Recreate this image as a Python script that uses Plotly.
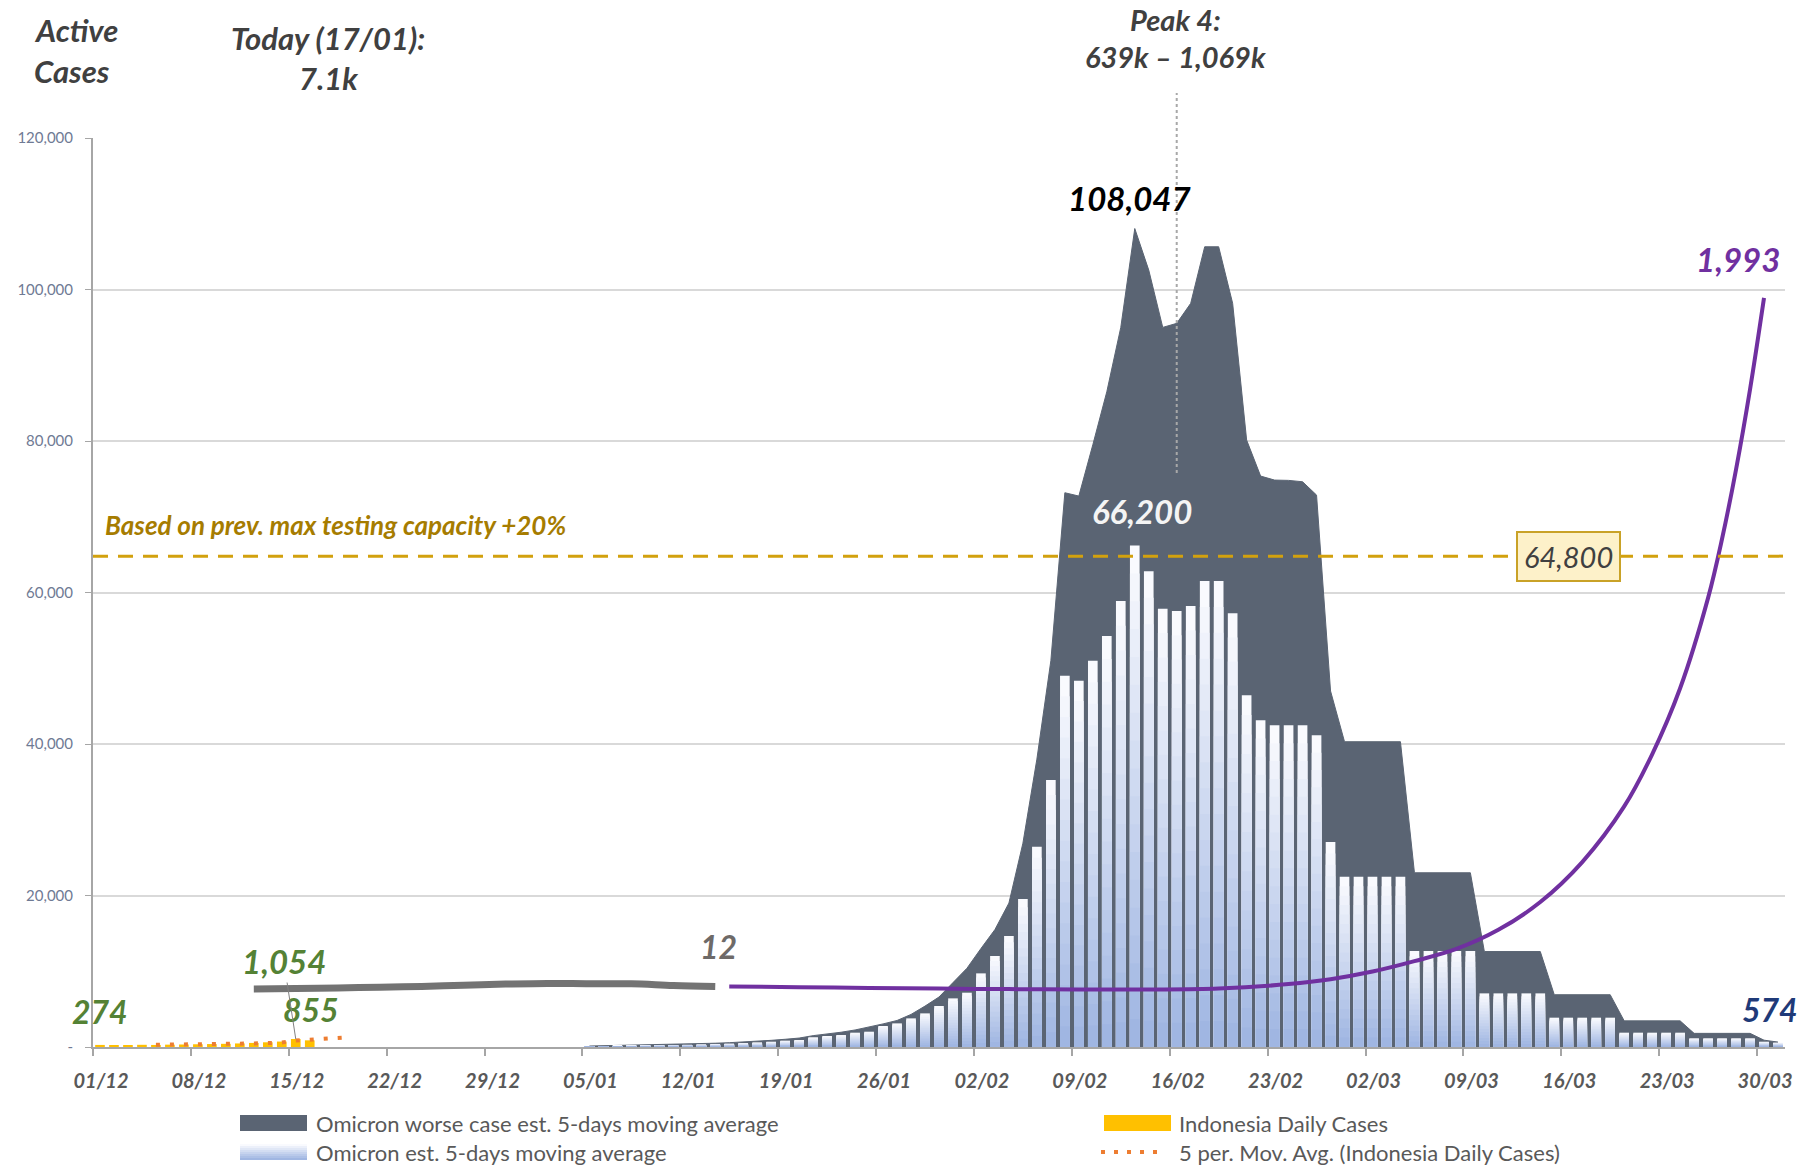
import pandas as pd
import plotly.graph_objects as go

# ------------------------------------------------------------------ data
AXIS_START, AXIS_END = "2021-12-01", "2022-04-01"
DAY_MS = 86400000

# Omicron projections, one value per day from 05/01/2022 to 31/03/2022
OMICRON_START = "2022-01-05"
omicron_est = [
    100, 120, 140, 160, 190, 220, 250, 290, 330, 380, 440, 510, 600,
    700, 840, 920, 1280, 1450, 1580, 1890, 2020, 2770, 3120, 3780, 4440,
    5410, 6420, 7170, 9720, 12010, 14650,
    19540, 26440, 35240, 49010, 48350, 50990, 54250, 58870, 66200, 62790,
    57860, 57550, 58210, 61510, 61510, 57250, 46420, 43120, 42460, 42460,
    42460, 41140, 27060,
    22480, 22480, 22480, 22480, 22480,
    12670, 12670, 12670, 12670, 12670,
    7080, 7080, 7080, 7080, 7080,
    3870, 3870, 3870, 3870, 3870,
    1890, 1890, 1890, 1890, 1890,
    1145, 1145, 1145, 1145, 1145,
    700, 574,
]
omicron_worst = [
    130, 160, 190, 220, 260, 300, 340, 390, 440, 500, 570, 650, 750,
    880, 1020, 1180, 1500, 1700, 1950, 2250, 2600, 3050, 3500, 4300, 5400,
    6600, 8500, 10400, 13000, 15500, 19000,
    26900, 38000, 51000, 73170, 72730, 79500, 86500, 95000, 108047, 102560,
    95000, 95530, 98170, 105640, 105640, 98170, 80120, 75370, 74840, 74800,
    74620, 72860, 47000,
    40300, 40300, 40300, 40300, 40300,
    23000, 23000, 23000, 23000, 23000,
    12600, 12600, 12600, 12600, 12600,
    6900, 6900, 6900, 6900, 6900,
    3450, 3450, 3450, 3450, 3450,
    1800, 1800, 1800, 1800, 1800,
    900, 650,
]

# Indonesia daily cases and their 5-period moving average
CASES_START = "2021-12-01"
indonesia_daily = [274, 240, 260, 290, 270, 310, 330, 360, 390, 420,
                   470, 540, 620, 720, 1054, 880]
MOV_AVG_START = "2021-12-05"
indonesia_mov_avg = [290, 300, 320, 340, 370, 400, 430, 470, 520, 600,
                     855, 950, 1050, 1150, 1300]

# Lines on the secondary (hidden) scale
gray_dates = ["2021-12-12", "2021-12-15", "2021-12-18", "2021-12-21",
              "2021-12-24", "2021-12-27", "2021-12-30", "2022-01-02",
              "2022-01-05", "2022-01-08", "2022-01-11", "2022-01-14"]
gray_values = [5, 6, 8, 10, 12, 16, 19, 21, 20, 20, 15, 12]

purple_dates = ["2022-01-15", "2022-01-20", "2022-01-25", "2022-01-30",
                "2022-02-04", "2022-02-09", "2022-02-14", "2022-02-19",
                "2022-02-24", "2022-02-27", "2022-03-02", "2022-03-05",
                "2022-03-08", "2022-03-11", "2022-03-14", "2022-03-17",
                "2022-03-20", "2022-03-22", "2022-03-24", "2022-03-26",
                "2022-03-27", "2022-03-28", "2022-03-29", "2022-03-30"]
purple_values = [12, 10, 8, 6, 4.5, 3.5, 3.5, 6, 19, 33, 55, 85, 120, 175,
                 255, 370, 530, 680, 870, 1130, 1300, 1500, 1730, 1993]
LINE_AXIS_RANGE = [-162, 2453]

TESTING_CAPACITY = 64800
PEAK_DATE = "2022-02-16"

y_ticks = [0, 20000, 40000, 60000, 80000, 100000, 120000]
y_ticktext = ["-", "20,000", "40,000", "60,000", "80,000", "100,000", "120,000"]

# ------------------------------------------------------------------ style
DARK = "#5a6473"
BAR_TOP = (249, 250, 254)
BAR_BOTTOM = (160, 182, 226)
PURPLE = "#7030a0"
GOLD = "#d2a10e"
GREEN = "#548235"
TEXT = "#404040"

# plot-area pixel frame used for the free-standing texts
PL, PR, PT, PB = 93, 1785, 138, 1047


def px(x):
    return (x - PL) / (PR - PL)


def py(y):
    return (PB - y) / (PB - PT)


def blend(t):
    return "rgb(%d,%d,%d)" % tuple(round(a + (b - a) * t) for a, b in zip(BAR_TOP, BAR_BOTTOM))


def mid(d):
    return pd.Timestamp(d) + pd.Timedelta(hours=12)


est_x = pd.date_range(OMICRON_START, periods=len(omicron_est), freq="D")
cases_x = pd.date_range(CASES_START, periods=len(indonesia_daily), freq="D")
mov_x = pd.date_range(MOV_AVG_START, periods=len(indonesia_mov_avg), freq="D")

period = dict(xperiod=DAY_MS, xperiodalignment="middle")

fig = go.Figure()

# worst-case area (main axis, drawn underneath)
fig.add_trace(go.Scatter(
    x=est_x, y=omicron_worst, mode="lines", fill="tozeroy",
    fillcolor=DARK, line=dict(color=DARK, width=1), hoverinfo="skip", **period))

# estimate columns with a white-to-blue vertical gradient (overlay axis)
N_LAYERS = 18
for k in range(N_LAYERS):
    frac = (N_LAYERS - k) / N_LAYERS
    fig.add_trace(go.Bar(
        x=est_x, y=[v * frac for v in omicron_est], yaxis="y2",
        marker=dict(color=blend(k / (N_LAYERS - 1)), line=dict(width=0)),
        hoverinfo="skip", **period))

fig.add_trace(go.Bar(x=cases_x, y=indonesia_daily, yaxis="y2",
                     marker=dict(color="#ffc000", line=dict(width=0)), **period))
fig.add_trace(go.Scatter(x=mov_x, y=indonesia_mov_avg, yaxis="y2", mode="lines",
                         line=dict(color="#ed7d31", width=4, dash="4px,10px"), **period))

# lines on the hidden secondary scale
fig.add_trace(go.Scatter(x=gray_dates, y=gray_values, yaxis="y3", mode="lines",
                         line=dict(color="#737373", width=7, shape="spline"), **period))
fig.add_trace(go.Scatter(x=purple_dates, y=purple_values, yaxis="y3", mode="lines",
                         line=dict(color=PURPLE, width=4, shape="spline"), **period))

# ------------------------------------------------------------------ shapes
ROW1, ROW2 = 1123, 1152
shapes = [
    dict(type="line", xref="paper", yref="y", x0=0, x1=1,
         y0=TESTING_CAPACITY, y1=TESTING_CAPACITY,
         line=dict(color=GOLD, width=3, dash="15px,10px")),
    dict(type="line", xref="x", yref="paper", x0=mid(PEAK_DATE), x1=mid(PEAK_DATE),
         y0=py(473), y1=py(93), line=dict(color="#a8a8a8", width=2, dash="dot")),
    # legend swatches
    dict(type="rect", xref="paper", yref="paper", x0=px(240), x1=px(307),
         y0=py(ROW1 + 8), y1=py(ROW1 - 8), fillcolor=DARK, line=dict(width=0)),
    dict(type="rect", xref="paper", yref="paper", x0=px(1104), x1=px(1171),
         y0=py(ROW1 + 8), y1=py(ROW1 - 8), fillcolor="#ffc000", line=dict(width=0)),
    dict(type="line", xref="paper", yref="paper", x0=px(1101), x1=px(1164),
         y0=py(ROW2), y1=py(ROW2), line=dict(color="#ed7d31", width=4, dash="4px,9px")),
]
STRIPS = 8
for i in range(STRIPS):
    top = ROW2 - 8 + i * 16 / STRIPS
    shapes.append(dict(type="rect", xref="paper", yref="paper", x0=px(240), x1=px(307),
                       y0=py(top + 16 / STRIPS), y1=py(top),
                       fillcolor=blend(i / (STRIPS - 1)), line=dict(width=0)))

# ------------------------------------------------------------------ texts
bi = dict(family="Lato", weight="bold", style="italic")


def label(text, x, y, size, color, xref="x", yref="y", xanchor="center",
          yanchor="middle", xshift=0, yshift=0, **kw):
    return dict(text=text, x=x, y=y, xref=xref, yref=yref, xanchor=xanchor,
                yanchor=yanchor, xshift=xshift, yshift=yshift, showarrow=False,
                font=dict(size=size, color=color, **bi), **kw)


peak_i = omicron_worst.index(max(omicron_worst))
bar_i = omicron_est.index(max(omicron_est))

annotations = [
    label("Active", px(32), py(30), 31, TEXT, "paper", "paper", xanchor="left"),
    label("Cases", px(32), py(71), 31, TEXT, "paper", "paper", xanchor="left"),
    label("Today (17/01):", px(328), py(38), 31, TEXT, "paper", "paper"),
    label("7.1k", px(328), py(78), 31, TEXT, "paper", "paper"),
    label("Peak 4:", px(1175), py(20), 29, TEXT, "paper", "paper"),
    label("639k – 1,069k", px(1175), py(57), 29, TEXT, "paper", "paper"),
    label("Based on prev. max testing capacity +20%", px(103), py(525), 26,
          "#a67c00", "paper", "paper", xanchor="left"),
    label(f"{max(omicron_worst):,}", mid(est_x[peak_i]), max(omicron_worst), 33,
          "#000000", xshift=-5, yshift=31),
    label(f"{max(omicron_est):,}", mid(est_x[bar_i]), max(omicron_est), 33,
          "#f4f4f4", xshift=7, yshift=35),
    label(f"{omicron_est[-1]:,}", mid(est_x[-1]), omicron_est[-1], 32,
          "#1f3a78", xshift=-8, yshift=33),
    label(f"{purple_values[-1]:,}", mid(purple_dates[-1]), purple_values[-1], 33,
          PURPLE, yref="y3", xshift=-26, yshift=39),
    label(f"{gray_values[-1]:,}", mid(gray_dates[-1]), gray_values[-1], 32,
          "#6e6a68", yref="y3", xshift=3, yshift=40),
    label(f"{indonesia_mov_avg[10]:,}", mid(mov_x[10]), indonesia_mov_avg[10], 32,
          GREEN, xshift=15, yshift=31),
    label(f"{indonesia_daily[0]:,}", mid(cases_x[0]), indonesia_daily[0], 32,
          GREEN, yshift=33),
    dict(text=f"{indonesia_daily[14]:,}", x=mid(cases_x[14]), y=indonesia_daily[14],
         xref="x", yref="y", showarrow=True, arrowhead=0, arrowwidth=1,
         arrowcolor="#808080", ax=-12, ay=-78, standoff=0,
         font=dict(size=33, color=GREEN, **bi)),
    dict(text=f"{TESTING_CAPACITY:,}", x=px(1568), y=TESTING_CAPACITY,
         xref="paper", yref="y", showarrow=False, xanchor="center", yanchor="middle",
         bgcolor="#fdf1c9", bordercolor="#c9a227", borderwidth=2, borderpad=6,
         font=dict(size=29, color=TEXT, family="Lato", style="italic")),
]
legend_font = dict(family="Lato", size=22, color="#595959")
for text, x, y in [
    ("Omicron worse case est. 5-days moving average", 315, ROW1),
    ("Omicron est. 5-days moving average", 315, ROW2),
    ("Indonesia Daily Cases", 1178, ROW1),
    ("5 per. Mov. Avg. (Indonesia Daily Cases)", 1178, ROW2),
]:
    annotations.append(dict(text=text, x=px(x), y=py(y), xref="paper", yref="paper",
                            xanchor="left", yanchor="middle", showarrow=False,
                            borderpad=0, font=legend_font))

# ------------------------------------------------------------------ layout
fig.update_layout(
    width=1818, height=1169,
    margin=dict(l=PL, r=1818 - PR, t=PT, b=1169 - PB),
    plot_bgcolor="white", paper_bgcolor="white",
    showlegend=False, barmode="overlay", bargap=0.31,
    font=dict(family="Lato"),
    xaxis=dict(
        type="date", range=[AXIS_START, AXIS_END], tick0=AXIS_START,
        dtick=7 * DAY_MS, tickformat="%d/%m", ticks="outside", ticklen=7,
        tickwidth=1.5, tickcolor="#a6a6a6", showline=True, linecolor="#a6a6a6",
        linewidth=2, showgrid=False, zeroline=False, ticklabelstandoff=8,
        ticklabelshift=8,
        tickfont=dict(size=20, color="#595959", **bi),
    ),
    yaxis=dict(
        range=[0, 120000], tickvals=y_ticks, ticktext=y_ticktext,
        showgrid=True, gridcolor="#d9d9d9", gridwidth=1.5, showline=True,
        linecolor="#a6a6a6", linewidth=2, ticks="outside", ticklen=6,
        tickcolor="#a6a6a6", zeroline=False, ticklabelstandoff=9,
        tickfont=dict(family="Lato", size=15, color="#6f7a94"),
    ),
    yaxis2=dict(overlaying="y", range=[0, 120000], visible=False),
    yaxis3=dict(overlaying="y", range=LINE_AXIS_RANGE, visible=False),
    shapes=shapes,
    annotations=annotations,
)

fig.write_html("out.html")
